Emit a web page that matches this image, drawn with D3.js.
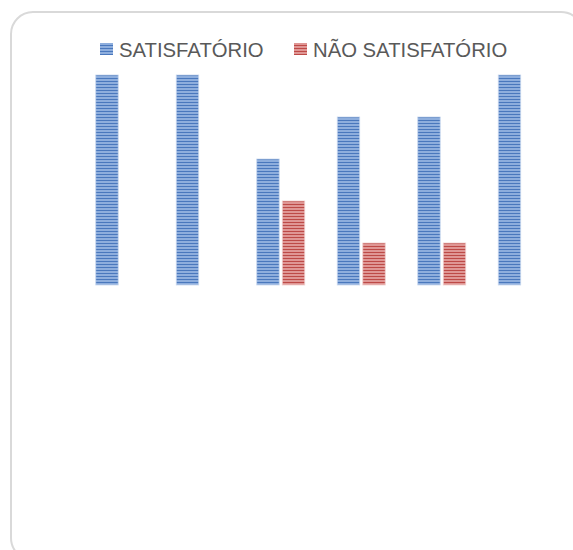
<!DOCTYPE html>
<html>
<head>
<meta charset="utf-8">
<script src="https://cdn.jsdelivr.net/npm/d3@7"></script>
<style>
  html, body { margin: 0; padding: 0; background: #fff; }
  svg { display: block; }
</style>
</head>
<body>
<svg id="chart" width="573" height="550"></svg>
<script>
// ---- data ----
const categories = ["1", "2", "3", "4", "5", "6"];
const seriesNames = ["SATISFATÓRIO", "NÃO SATISFATÓRIO"];
const satisfatorio = [100, 100, 60, 80, 80, 100];
const naoSatisfatorio = [0, 0, 40, 20, 20, 0];
const yDomain = [0, 100];

// ---- styles ----
const colors = {
  "SATISFATÓRIO": { light: "#8eaedd", dark: "#4a78bd" },
  "NÃO SATISFATÓRIO": { light: "#df9694", dark: "#bd4a47" }
};

const svg = d3.select("#chart");

// frame
svg.append("rect")
  .attr("x", 11).attr("y", 12)
  .attr("width", 572).attr("height", 548)
  .attr("rx", 22).attr("ry", 22)
  .attr("fill", "#fff")
  .attr("stroke", "#d9d9d9")
  .attr("stroke-width", 2);

// patterns (horizontal stripes)
const defs = svg.append("defs");
seriesNames.forEach((s, i) => {
  const p = defs.append("pattern")
    .attr("id", "pat" + i)
    .attr("patternUnits", "userSpaceOnUse")
    .attr("width", 4).attr("height", 3);
  p.append("rect").attr("width", 4).attr("height", 3).attr("fill", colors[s].light);
  p.append("rect").attr("y", 0).attr("width", 4).attr("height", 1).attr("fill", colors[s].dark);
});

// scales
const x0 = d3.scaleBand().domain(categories).range([79.5, 562.5]).padding(0);
const groupW = 48;
const x1 = d3.scaleBand().domain(seriesNames)
  .range([x0.bandwidth() / 2 - groupW / 2, x0.bandwidth() / 2 + groupW / 2])
  .paddingInner(0.12).paddingOuter(0);
const y = d3.scaleLinear().domain(yDomain).range([285, 75]);

const data = categories.map((c, i) => ({
  cat: c,
  values: [
    { key: seriesNames[0], value: satisfatorio[i] },
    { key: seriesNames[1], value: naoSatisfatorio[i] }
  ]
}));

const g = svg.append("g");
const groups = g.selectAll("g.grp").data(data).join("g")
  .attr("class", "grp")
  .attr("transform", d => `translate(${x0(d.cat)},0)`);

groups.selectAll("rect").data(d => d.values.filter(v => v.value > 0)).join("rect")
  .attr("x", d => x1(d.key))
  .attr("width", x1.bandwidth())
  .attr("y", d => y(d.value))
  .attr("height", d => y(0) - y(d.value))
  .attr("fill", d => "url(#pat" + seriesNames.indexOf(d.key) + ")")
  .attr("stroke", d => d.key === seriesNames[0] ? "#c9d8ee" : "#efcfce")
  .attr("stroke-width", 0.8);

// legend
const legendItems = [
  { name: seriesNames[0], sx: 100, tx: 119 },
  { name: seriesNames[1], sx: 294, tx: 313 }
];
const leg = svg.append("g");
legendItems.forEach((it, i) => {
  leg.append("rect")
    .attr("x", it.sx).attr("y", 43).attr("width", 13).attr("height", 12)
    .attr("fill", "url(#pat" + i + ")");
  leg.append("text")
    .attr("x", it.tx).attr("y", 56.5)
    .attr("font-family", "Liberation Sans, Arial, sans-serif")
    .attr("font-size", 20.3)
    .attr("fill", "#595959")
    .text(it.name);
});
</script>
</body>
</html>
